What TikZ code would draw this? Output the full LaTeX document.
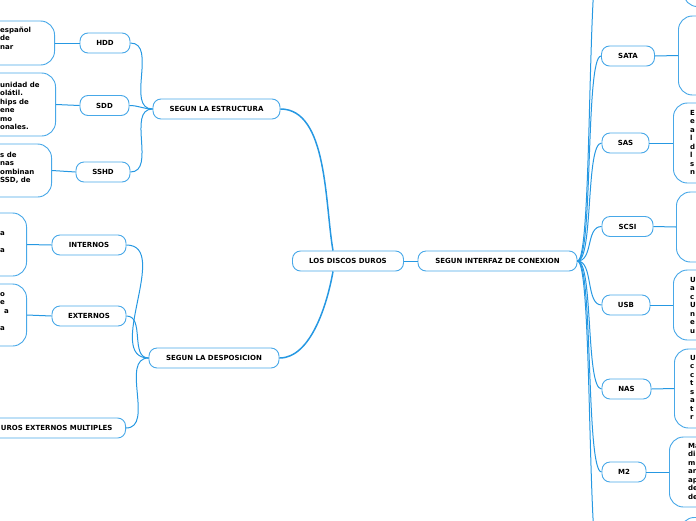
\documentclass[tikz,border=0pt]{standalone}
\usepackage{fontspec}
\setmainfont{DejaVu Sans}
\usetikzlibrary{positioning,calc}
\definecolor{mapline}{RGB}{38,152,226}
\definecolor{mapedge}{RGB}{72,168,232}
\tikzset{
  font=\bfseries\fontsize{7}{8.5}\selectfont,
  topic/.style  ={draw=mapedge, line width=0.9pt, rounded corners=8pt, minimum height=20pt, inner sep=0pt, fill=white, align=center},
  note/.style   ={draw=mapedge, line width=0.9pt, rounded corners=14pt, fill=white},
  frag/.style   ={inner sep=0pt, align=left, anchor=base west},
  link/.style   ={draw=mapline, line width=1pt},
  trunk/.style  ={draw=mapline, line width=1.5pt},
}
\begin{document}
\begin{tikzpicture}[x=1pt,y=1pt]
  \useasboundingbox (0,0) rectangle (696,-520);
  \clip (0,0) rectangle (696,-520);

  \node[topic, minimum width=111pt] (discos) at (348,-261) {LOS DISCOS DUROS};
  \node[topic, minimum width=159pt] (interfaz) at (497.5,-261) {SEGUN INTERFAZ DE CONEXION};
  \node[topic, minimum width=127pt] (estruc) at (216.5,-109) {SEGUN LA ESTRUCTURA};
  \node[topic, minimum width=130pt] (dispo) at (214,-358) {SEGUN LA DESPOSICION};

  \node[topic, minimum width=50pt] (hdd) at (105,-43) {HDD};
  \node[topic, minimum width=49pt] (sdd) at (104.5,-105.5) {SDD};
  \node[topic, minimum width=54pt] (sshd) at (103,-172) {SSHD};
  \node[topic, minimum width=74pt] (intern) at (89,-245) {INTERNOS};
  \node[topic, minimum width=74pt] (extern) at (89,-316) {EXTERNOS};
  \node[topic, anchor=east, inner xsep=13pt] (multi) at (126,-428) {UROS EXTERNOS MULTIPLES};

  \node[topic, minimum width=53pt] (sata) at (628,-56) {SATA};
  \node[topic, minimum width=47pt] (sas) at (625.5,-143) {SAS};
  \node[topic, minimum width=51pt] (scsi) at (627.5,-226.5) {SCSI};
  \node[topic, minimum width=48pt] (usb) at (626,-305) {USB};
  \node[topic, minimum width=49pt] (nas) at (626.5,-389) {NAS};
  \node[topic, minimum width=44pt] (mdos) at (624,-472) {M2};
  \coordinate (upper) at (602,60);
  \coordinate (lower) at (602,-580);

  \node[note, anchor=east, minimum width=100pt, minimum height=44pt] (hddtxt) at (55,-43) {};
  \node[note, anchor=east, minimum width=100pt, minimum height=63pt] (sddtxt) at (56,-104.5) {};
  \node[note, anchor=east, minimum width=100pt, minimum height=53pt] (sshdtxt) at (52,-170.5) {};
  \node[note, anchor=east, minimum width=80pt, minimum height=63pt] (inttxt) at (27,-244.5) {};
  \node[note, anchor=east, minimum width=80pt, minimum height=62pt] (exttxt) at (27,-315) {};

  \node[note, anchor=south west, minimum width=80pt, minimum height=70pt] (uppertxt) at (683,-7) {};
  \node[note, anchor=west, minimum width=80pt, minimum height=79pt] (satatxt) at (678,-55.5) {};
  \node[note, anchor=west, minimum width=80pt, minimum height=80pt] (sastxt) at (673,-143) {};
  \node[note, anchor=west, minimum width=80pt, minimum height=70pt] (scsitxt) at (676,-227) {};
  \node[note, anchor=west, minimum width=80pt, minimum height=70pt] (usbtxt) at (673,-305) {};
  \node[note, anchor=west, minimum width=80pt, minimum height=79pt] (nastxt) at (674,-388.5) {};
  \node[note, anchor=west, minimum width=80pt, minimum height=70pt] (mdostxt) at (669,-472) {};
  \node[note, anchor=north west, minimum width=80pt, minimum height=70pt] (lowertxt) at (680,-517) {};

  \node[frag] (hddfrag) at (0,-49) {español\\de\\nar};
  \node[frag] (sddfrag) at (0,-129.5) {unidad de\\olátil.\\hips de\\ene\\mo\\onales.};
  \node[frag] (sshdfrag) at (0,-182.5) {s de\\nas\\ombinan\\SSD, de};
  \node[frag] (intfrag) at (0,-252) {a\\\mbox{}\\a};
  \node[frag] (extfrag) at (0,-330) {o\\e\\\hspace{4pt}a\\\mbox{}\\a};
  \node[frag] (sasfrag) at (690,-174.5) {E\\e\\a\\l\\d\\l\\s\\n};
  \node[frag] (usbfrag) at (690,-333) {U\\a\\c\\U\\n\\e\\u};
  \node[frag] (nasfrag) at (690,-419.5) {U\\c\\c\\t\\s\\a\\t\\r};
  \node[frag] (mdosfrag) at (688,-499) {Ma\\di\\m\\ar\\ap\\de\\de};

  \draw[trunk] ([xshift=-15pt]discos.north) to[out=100,in=0,looseness=0.8] (estruc.east);
  \draw[trunk] ([xshift=-15pt]discos.south) to[out=-100,in=0,looseness=0.8] (dispo.east);
  \draw[link] (discos.east) -- (interfaz.west);

  \draw[link] (estruc.west) to[out=180,in=0] (hdd.east);
  \draw[link] (estruc.west) to[out=180,in=0] (sdd.east);
  \draw[link] (estruc.west) to[out=180,in=0] (sshd.east);
  \draw[link] (dispo.west) to[out=180,in=0] (intern.east);
  \draw[link] (dispo.west) to[out=180,in=0] (extern.east);
  \draw[link] (dispo.west) to[out=180,in=0] (multi.east);

  \foreach \kid in {upper,sata,sas,scsi,usb,nas,mdos,lower}
    \draw[link] (interfaz.east) to[out=0,in=180,distance=16pt] (\kid.west);

  \draw[link] (hdd.west) -- (hddtxt.east);
  \draw[link] (sdd.west) -- (sddtxt.east);
  \draw[link] (sshd.west) -- (sshdtxt.east);
  \draw[link] (intern.west) -- (inttxt.east);
  \draw[link] (extern.west) -- (exttxt.east);
  \draw[link] (sata.east) -- (satatxt.west);
  \draw[link] (sas.east) -- (sastxt.west);
  \draw[link] (scsi.east) -- (scsitxt.west);
  \draw[link] (usb.east) -- (usbtxt.west);
  \draw[link] (nas.east) -- (nastxt.west);
  \draw[link] (mdos.east) -- (mdostxt.west);
\end{tikzpicture}
\end{document}
